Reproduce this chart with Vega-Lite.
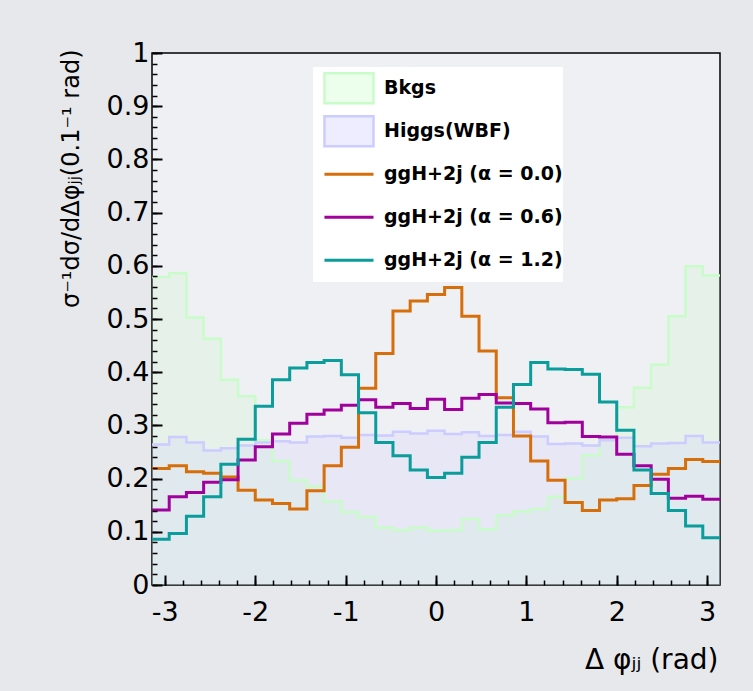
{
  "$schema": "https://vega.github.io/schema/vega-lite/v6.json",
  "width": 568,
  "height": 532,
  "autosize": {"type": "none"},
  "padding": {"left": 152, "top": 53, "right": 33, "bottom": 106},
  "background": "#e7e8eb",
  "config": {
    "view": {"fill": "#eff0f3", "stroke": "black", "strokeWidth": 1.5},
    "axis": {
      "domain": false,
      "grid": false,
      "ticks": true,
      "tickColor": "black",
      "tickWidth": 2,
      "zindex": 2,
      "labelColor": "black",
      "labelFont": "DejaVu Sans",
      "labelFontSize": 27,
      "labelOverlap": false,
      "labelFlush": false,
      "labelBound": false,
      "titleColor": "black",
      "titleFont": "DejaVu Sans",
      "titleFontSize": 28,
      "titleFontWeight": "normal"
    }
  },
  "data": {
    "values": [
      {"bin": 0, "x0": -3.14159, "x1": -2.95119, "bkg": 0.579, "wbf": 0.264, "a00": 0.219, "a06": 0.141, "a12": 0.086},
      {"bin": 1, "x0": -2.95119, "x1": -2.76079, "bkg": 0.586, "wbf": 0.278, "a00": 0.224, "a06": 0.166, "a12": 0.097},
      {"bin": 2, "x0": -2.76079, "x1": -2.57039, "bkg": 0.503, "wbf": 0.268, "a00": 0.213, "a06": 0.174, "a12": 0.129},
      {"bin": 3, "x0": -2.57039, "x1": -2.37999, "bkg": 0.463, "wbf": 0.253, "a00": 0.210, "a06": 0.193, "a12": 0.166},
      {"bin": 4, "x0": -2.37999, "x1": -2.18959, "bkg": 0.386, "wbf": 0.257, "a00": 0.203, "a06": 0.198, "a12": 0.227},
      {"bin": 5, "x0": -2.18959, "x1": -1.99919, "bkg": 0.355, "wbf": 0.262, "a00": 0.178, "a06": 0.235, "a12": 0.274},
      {"bin": 6, "x0": -1.99919, "x1": -1.80879, "bkg": 0.272, "wbf": 0.268, "a00": 0.160, "a06": 0.260, "a12": 0.336},
      {"bin": 7, "x0": -1.80879, "x1": -1.61839, "bkg": 0.233, "wbf": 0.270, "a00": 0.153, "a06": 0.284, "a12": 0.386},
      {"bin": 8, "x0": -1.61839, "x1": -1.42799, "bkg": 0.197, "wbf": 0.268, "a00": 0.143, "a06": 0.304, "a12": 0.408},
      {"bin": 9, "x0": -1.42799, "x1": -1.23759, "bkg": 0.185, "wbf": 0.279, "a00": 0.177, "a06": 0.321, "a12": 0.418},
      {"bin": 10, "x0": -1.23759, "x1": -1.04720, "bkg": 0.157, "wbf": 0.280, "a00": 0.224, "a06": 0.329, "a12": 0.422},
      {"bin": 11, "x0": -1.04720, "x1": -0.85680, "bkg": 0.137, "wbf": 0.277, "a00": 0.259, "a06": 0.338, "a12": 0.395},
      {"bin": 12, "x0": -0.85680, "x1": -0.66640, "bkg": 0.128, "wbf": 0.282, "a00": 0.370, "a06": 0.348, "a12": 0.324},
      {"bin": 13, "x0": -0.66640, "x1": -0.47600, "bkg": 0.108, "wbf": 0.281, "a00": 0.435, "a06": 0.334, "a12": 0.268},
      {"bin": 14, "x0": -0.47600, "x1": -0.28560, "bkg": 0.103, "wbf": 0.288, "a00": 0.515, "a06": 0.341, "a12": 0.243},
      {"bin": 15, "x0": -0.28560, "x1": -0.09520, "bkg": 0.108, "wbf": 0.285, "a00": 0.534, "a06": 0.332, "a12": 0.216},
      {"bin": 16, "x0": -0.09520, "x1": 0.09520, "bkg": 0.102, "wbf": 0.290, "a00": 0.546, "a06": 0.349, "a12": 0.202},
      {"bin": 17, "x0": 0.09520, "x1": 0.28560, "bkg": 0.103, "wbf": 0.284, "a00": 0.559, "a06": 0.330, "a12": 0.210},
      {"bin": 18, "x0": 0.28560, "x1": 0.47600, "bkg": 0.124, "wbf": 0.287, "a00": 0.505, "a06": 0.351, "a12": 0.240},
      {"bin": 19, "x0": 0.47600, "x1": 0.66640, "bkg": 0.105, "wbf": 0.280, "a00": 0.440, "a06": 0.358, "a12": 0.268},
      {"bin": 20, "x0": 0.66640, "x1": 0.85680, "bkg": 0.131, "wbf": 0.282, "a00": 0.352, "a06": 0.342, "a12": 0.334},
      {"bin": 21, "x0": 0.85680, "x1": 1.04720, "bkg": 0.138, "wbf": 0.288, "a00": 0.280, "a06": 0.341, "a12": 0.377},
      {"bin": 22, "x0": 1.04720, "x1": 1.23759, "bkg": 0.143, "wbf": 0.279, "a00": 0.233, "a06": 0.331, "a12": 0.418},
      {"bin": 23, "x0": 1.23759, "x1": 1.42799, "bkg": 0.166, "wbf": 0.265, "a00": 0.197, "a06": 0.305, "a12": 0.406},
      {"bin": 24, "x0": 1.42799, "x1": 1.61839, "bkg": 0.200, "wbf": 0.266, "a00": 0.155, "a06": 0.306, "a12": 0.405},
      {"bin": 25, "x0": 1.61839, "x1": 1.80879, "bkg": 0.244, "wbf": 0.262, "a00": 0.140, "a06": 0.279, "a12": 0.396},
      {"bin": 26, "x0": 1.80879, "x1": 1.99919, "bkg": 0.272, "wbf": 0.272, "a00": 0.160, "a06": 0.278, "a12": 0.344},
      {"bin": 27, "x0": 1.99919, "x1": 2.18959, "bkg": 0.334, "wbf": 0.277, "a00": 0.162, "a06": 0.246, "a12": 0.291},
      {"bin": 28, "x0": 2.18959, "x1": 2.37999, "bkg": 0.371, "wbf": 0.261, "a00": 0.187, "a06": 0.224, "a12": 0.216},
      {"bin": 29, "x0": 2.37999, "x1": 2.57039, "bkg": 0.414, "wbf": 0.266, "a00": 0.208, "a06": 0.199, "a12": 0.172},
      {"bin": 30, "x0": 2.57039, "x1": 2.76079, "bkg": 0.505, "wbf": 0.267, "a00": 0.219, "a06": 0.163, "a12": 0.140},
      {"bin": 31, "x0": 2.76079, "x1": 2.95119, "bkg": 0.599, "wbf": 0.280, "a00": 0.236, "a06": 0.167, "a12": 0.111},
      {"bin": 32, "x0": 2.95119, "x1": 3.14159, "bkg": 0.582, "wbf": 0.268, "a00": 0.232, "a06": 0.161, "a12": 0.089}
    ]
  },
  "transform": [
    {"fold": ["bkg", "wbf", "a00", "a06", "a12"], "as": ["key", "val"]},
    {"calculate": "datum.key == 'bkg' ? 'Bkgs' : datum.key == 'wbf' ? 'Higgs(WBF)' : datum.key == 'a00' ? 'ggH+2j (α = 0.0)' : datum.key == 'a06' ? 'ggH+2j (α = 0.6)' : 'ggH+2j (α = 1.2)'", "as": "series"},
    {"fold": ["x0", "x1"], "as": ["edge", "xe"]}
  ],
  "encoding": {
    "color": {
      "field": "series",
      "type": "nominal",
      "scale": {
        "domain": ["Bkgs", "Higgs(WBF)", "ggH+2j (α = 0.0)", "ggH+2j (α = 0.6)", "ggH+2j (α = 1.2)"],
        "range": ["#c8fcc8", "#ccccff", "#d66e0b", "#a0009c", "#0b9c9c"]
      },
      "legend": {
        "title": null,
        "orient": "none",
        "legendX": 161,
        "legendY": 14,
        "fillColor": "white",
        "padding": 0,
        "rowPadding": 0,
        "clipHeight": 42.6,
        "symbolSize": 900,
        "labelOffset": 52,
        "labelFont": "DejaVu Sans",
        "labelFontWeight": "bold",
        "labelFontSize": 19,
        "labelColor": "black",
        "labelLimit": 0,
        "encode": {
          "symbols": {
            "update": {
              "shape": {"signal": "datum.value == 'Bkgs' || datum.value == 'Higgs(WBF)' ? 'M0.13,-1H3.4V1H0.13Z' : 'M0.13,0H3.4'"},
              "stroke": {"signal": "scale('color', datum.value)"},
              "strokeWidth": {"signal": "datum.value == 'Bkgs' || datum.value == 'Higgs(WBF)' ? 2.5 : 3"},
              "opacity": {"value": 1},
              "fillOpacity": {"signal": "datum.value == 'Bkgs' || datum.value == 'Higgs(WBF)' ? 0.35 : 0"},
              "strokeOpacity": {"value": 1}
            }
          }
        }
      }
    },
    "y": {"field": "val", "type": "quantitative", "stack": null, "scale": {"domain": [0, 1], "nice": false}}
  },
  "layer": [
    {
      "transform": [{"filter": "datum.key == 'bkg' || datum.key == 'wbf'"}],
      "mark": {"type": "area", "fillOpacity": 0.24, "interpolate": "linear"},
      "encoding": {
        "x": {
          "field": "xe",
          "type": "quantitative",
          "scale": {"domain": [-3.14159, 3.14159], "nice": false, "zero": false},
          "axis": {
            "orient": "bottom",
            "title": null,
            "labels": false,
            "zindex": 2,
            "offset": -5,
            "tickSize": 5,
            "tickWidth": 1.5,
            "values": [-3, -2.8, -2.6, -2.4, -2.2, -2, -1.8, -1.6, -1.4, -1.2, -1, -0.8, -0.6, -0.4, -0.2, 0, 0.2, 0.4, 0.6, 0.8, 1, 1.2, 1.4, 1.6, 1.8, 2, 2.2, 2.4, 2.6, 2.8, 3]
          }
        },
        "y": {
          "field": "val",
          "type": "quantitative",
          "stack": null,
          "axis": {
            "orient": "left",
            "title": null,
            "labels": false,
            "zindex": 2,
            "offset": -5,
            "tickSize": 5,
            "tickWidth": 1.5,
            "values": [0, 0.02, 0.04, 0.06, 0.08, 0.1, 0.12, 0.14, 0.16, 0.18, 0.2, 0.22, 0.24, 0.26, 0.28, 0.3, 0.32, 0.34, 0.36, 0.38, 0.4, 0.42, 0.44, 0.46, 0.48, 0.5, 0.52, 0.54, 0.56, 0.58, 0.6, 0.62, 0.64, 0.66, 0.68, 0.7, 0.72, 0.74, 0.76, 0.78, 0.8, 0.82, 0.84, 0.86, 0.88, 0.9, 0.92, 0.94, 0.96, 0.98, 1]
          }
        }
      }
    },
    {
      "mark": {"type": "line", "interpolate": "linear", "strokeJoin": "miter"},
      "encoding": {
        "x": {
          "field": "xe",
          "type": "quantitative",
          "scale": {"domain": [-3.14159, 3.14159], "nice": false, "zero": false},
          "axis": {
            "orient": "bottom",
            "title": "Δ φⱼⱼ (rad)",
            "values": [-3, -2, -1, 0, 1, 2, 3],
            "labelExpr": "'' + round(datum.value)",
            "zindex": 2,
            "offset": -10,
            "tickSize": 10,
            "labelPadding": 14,
            "titleAlign": "right",
            "titleBaseline": "alphabetic",
            "titleX": 566,
            "titleY": 93
          }
        },
        "y": {
          "field": "val",
          "type": "quantitative",
          "stack": null,
          "axis": {
            "orient": "left",
            "title": "σ⁻¹dσ/dΔφⱼⱼ(0.1⁻¹ rad)",
            "titleFontSize": 24,
            "values": [0, 0.1, 0.2, 0.3, 0.4, 0.5, 0.6, 0.7, 0.8, 0.9, 1],
            "labelExpr": "'' + round(datum.value * 10) / 10",
            "zindex": 2,
            "offset": -10,
            "tickSize": 10,
            "labelPadding": 3,
            "titleAngle": -90,
            "titleAlign": "right",
            "titleBaseline": "alphabetic",
            "titleX": -84,
            "titleY": -4
          }
        },
        "order": [{"field": "bin", "type": "quantitative"}, {"field": "edge", "type": "ordinal"}],
        "strokeWidth": {"condition": {"test": "datum.key == 'bkg' || datum.key == 'wbf'", "value": 2.5}, "value": 3}
      }
    }
  ],
  "resolve": {"axis": {"x": "independent", "y": "independent"}}
}
